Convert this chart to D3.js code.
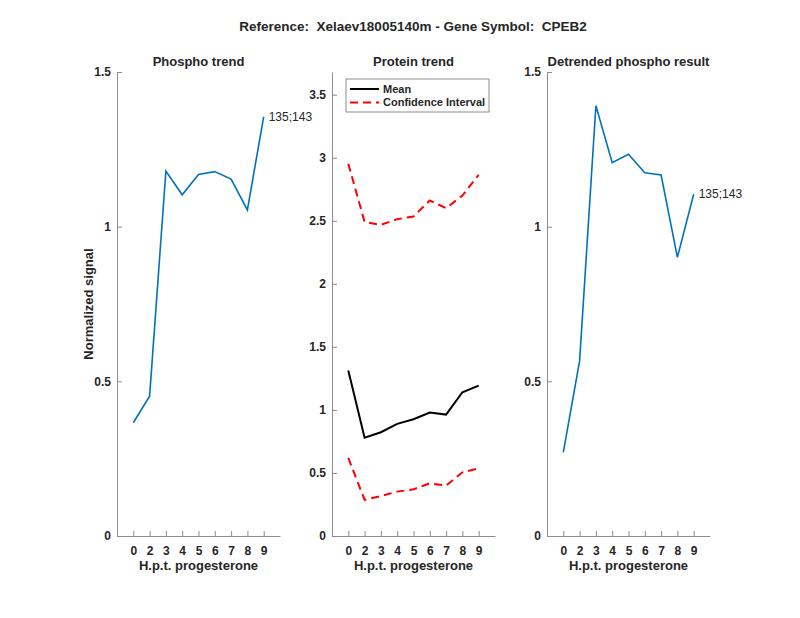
<!DOCTYPE html>
<html>
<head>
<meta charset="utf-8">
<script src="https://cdn.jsdelivr.net/npm/d3@7"></script>
<style>
  body { margin: 0; background: #fff; }
  text { font-family: "Liberation Sans", Arial, sans-serif; fill: #262626; }
</style>
</head>
<body>
<div id="chart"></div>
<script>
// categories (hours post treatment)
var hours = ["0", "2", "3", "4", "5", "6", "7", "8", "9"];

// series values
var phosphoTrend = [0.366, 0.452, 1.180, 1.103, 1.169, 1.178, 1.154, 1.054, 1.356];
var proteinMean = [1.312, 0.780, 0.823, 0.889, 0.926, 0.979, 0.963, 1.140, 1.193];
var proteinUpper = [2.952, 2.490, 2.468, 2.513, 2.534, 2.661, 2.600, 2.700, 2.865];
var proteinLower = [0.620, 0.286, 0.317, 0.352, 0.370, 0.418, 0.400, 0.505, 0.537];
var detrended = [0.270, 0.566, 1.391, 1.207, 1.234, 1.174, 1.167, 0.901, 1.105];

// tick labels
var yTicksPhospho = [0, 0.5, 1, 1.5];
var yTicksProtein = [0, 0.5, 1, 1.5, 2, 2.5, 3, 3.5];
var siteLabel = "135;143";

var width = 800, height = 618;
var plotTop = 72, plotBottom = 536, panelW = 163;

const svg = d3.select("#chart").append("svg")
    .attr("width", width)
    .attr("height", height);

// main title
svg.append("text")
    .attr("x", 413)
    .attr("y", 31)
    .attr("text-anchor", "middle")
    .style("font-size", "13.5px")
    .style("font-weight", "bold")
    .style("white-space", "pre")
    .text("Reference:  Xelaev18005140m - Gene Symbol:  CPEB2");

function makePanel(left, ymax, yTicks, title) {
  var x = d3.scaleLinear().domain([0, hours.length + 1]).range([left, left + panelW]);
  var y = d3.scaleLinear().domain([0, ymax]).range([plotBottom, plotTop]);
  var g = svg.append("g");

  // x axis
  var xAxis = d3.axisBottom(x)
      .tickValues(d3.range(1, hours.length + 1))
      .tickFormat((d, i) => hours[i])
      .tickSizeInner(-5)
      .tickSizeOuter(0)
      .tickPadding(10);
  var gx = g.append("g")
      .attr("transform", `translate(0,${plotBottom})`)
      .call(xAxis);

  // y axis
  var yAxis = d3.axisLeft(y)
      .tickValues(yTicks)
      .tickFormat(d3.format("~g"))
      .tickSizeInner(-5)
      .tickSizeOuter(0)
      .tickPadding(6);
  var gy = g.append("g")
      .attr("transform", `translate(${left},0)`)
      .call(yAxis);

  [gx, gy].forEach(a => {
    a.select(".domain").attr("stroke", "#8c8c8c");
    a.selectAll(".tick line").attr("stroke", "#8c8c8c");
    a.selectAll(".tick text")
      .style("font-size", "12px")
      .style("font-weight", "bold")
      .attr("fill", "#262626")
      .style("font-family", "Liberation Sans, Arial, sans-serif");
  });

  // title
  g.append("text")
      .attr("x", left + panelW / 2)
      .attr("y", 66)
      .attr("text-anchor", "middle")
      .style("font-size", "13px")
      .style("font-weight", "bold")
      .text(title);

  // x label
  g.append("text")
      .attr("x", left + panelW / 2)
      .attr("y", 570)
      .attr("text-anchor", "middle")
      .style("font-size", "13px")
      .style("font-weight", "bold")
      .text("H.p.t. progesterone");

  return {x: x, y: y, g: g};
}

function drawLine(p, values, color, w, dash) {
  var line = d3.line()
      .x((d, i) => p.x(i + 1))
      .y(d => p.y(d));
  p.g.append("path")
      .datum(values)
      .attr("fill", "none")
      .attr("stroke", color)
      .attr("stroke-width", w)
      .attr("stroke-dasharray", dash || null)
      .attr("d", line);
}

function siteText(p, values) {
  var n = values.length;
  p.g.append("text")
      .attr("x", p.x(n) + 5)
      .attr("y", p.y(values[n - 1]))
      .attr("dy", "0.35em")
      .style("font-size", "12px")
      .text(siteLabel);
}

// panel 1
var p1 = makePanel(117, 1.5, yTicksPhospho, "Phospho trend");
drawLine(p1, phosphoTrend, "#0072BD", 1.6);
siteText(p1, phosphoTrend);

// y label
svg.append("text")
    .attr("transform", "translate(93,304) rotate(-90)")
    .attr("text-anchor", "middle")
    .style("font-size", "13px")
    .style("font-weight", "bold")
    .text("Normalized signal");

// panel 2
var p2 = makePanel(332, 3.68, yTicksProtein, "Protein trend");
drawLine(p2, proteinUpper, "#ff0000", 2, "8,5");
drawLine(p2, proteinLower, "#ff0000", 2, "8,5");
drawLine(p2, proteinMean, "#000000", 2);

// legend
var lg = p2.g.append("g").attr("transform", "translate(346,79)");
lg.append("rect")
    .attr("width", 143)
    .attr("height", 33)
    .attr("fill", "#fff")
    .attr("stroke", "#8c8c8c")
    .attr("stroke-width", 1);
var legendItems = [
  {name: "Mean", color: "#000000", dash: null},
  {name: "Confidence Interval", color: "#ff0000", dash: "8,5"}
];
legendItems.forEach((d, i) => {
  var yy = 10 + i * 13.5;
  lg.append("line")
      .attr("x1", 4).attr("x2", 33)
      .attr("y1", yy).attr("y2", yy)
      .attr("stroke", d.color)
      .attr("stroke-width", 2)
      .attr("stroke-dasharray", d.dash);
  lg.append("text")
      .attr("x", 37)
      .attr("y", yy)
      .attr("dy", "0.35em")
      .style("font-size", "11px")
      .style("font-weight", "bold")
      .text(d.name);
});

// panel 3
var p3 = makePanel(547, 1.5, yTicksPhospho, "Detrended phospho result");
drawLine(p3, detrended, "#0072BD", 1.6);
siteText(p3, detrended);
</script>
</body>
</html>
